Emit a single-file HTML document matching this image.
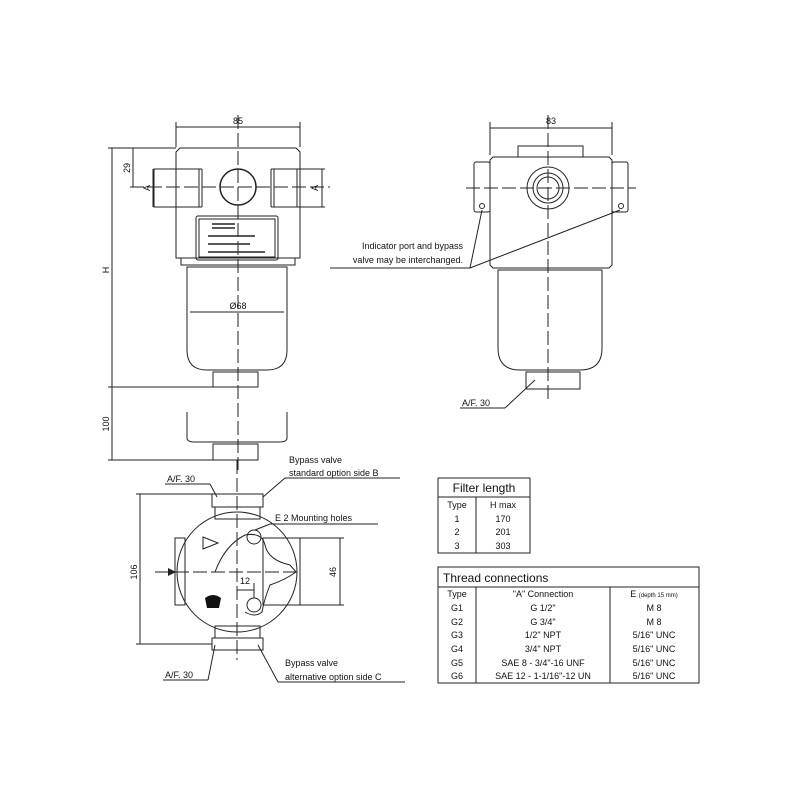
<!DOCTYPE html>
<html><head><meta charset="utf-8"><style>
html,body{margin:0;padding:0;background:#fff}
svg{display:block}
text{font-family:"Liberation Sans",sans-serif;fill:#111}
</style></head><body>
<svg width="800" height="800" viewBox="0 0 800 800" xmlns="http://www.w3.org/2000/svg">
<g fill="none" stroke="#222" stroke-width="1">
<!-- LEFT VIEW -->
<path d="M176,258 L176,152 L180,148 L296,148 L300,152 L300,258 Z"/>
<path d="M181,258 L181,265 L295,265 L295,258"/>
<rect x="154" y="169" width="22" height="38"/>
<line x1="199" y1="169" x2="199" y2="207"/><line x1="202" y1="169" x2="202" y2="207"/>
<line x1="176" y1="169" x2="202" y2="169"/><line x1="176" y1="207" x2="202" y2="207"/>
<line x1="271" y1="169" x2="271" y2="207"/><line x1="274" y1="169" x2="274" y2="207"/>
<line x1="271" y1="169" x2="300" y2="169"/><line x1="271" y1="207" x2="300" y2="207"/>
<line x1="297" y1="169" x2="297" y2="207"/>
<circle cx="238" cy="187" r="18" stroke-width="1.5"/>
<rect x="196" y="216" width="82" height="44" rx="2"/>
<rect x="199" y="219" width="76" height="38"/>
<g stroke-width="1.5"><line x1="212" y1="224" x2="235" y2="224"/><line x1="212" y1="228" x2="235" y2="228"/><line x1="208" y1="236" x2="255" y2="236"/><line x1="208" y1="244" x2="250" y2="244"/><line x1="208" y1="252" x2="265" y2="252"/></g>
<path d="M187,267 L287,267 L287,350 Q287,370 267,370 L207,370 Q187,370 187,350 Z"/>
<rect x="213" y="372" width="45" height="15"/>
<path d="M187,412 L187,438 Q187,442 195,442 L279,442 Q287,442 287,438 L287,412"/>
<rect x="213" y="444" width="45" height="16"/>
<line x1="238" y1="115" x2="238" y2="470" stroke-dasharray="14,4"/>
<line x1="130" y1="187" x2="330" y2="187" stroke-dasharray="14,4"/>
<!-- dims left -->
<line x1="176" y1="147" x2="176" y2="122"/><line x1="300" y1="147" x2="300" y2="122"/>
<line x1="176" y1="127" x2="300" y2="127"/>
<line x1="108" y1="148" x2="176" y2="148"/>
<line x1="112" y1="148" x2="112" y2="460"/>
<line x1="108" y1="387" x2="213" y2="387"/>
<line x1="108" y1="460" x2="213" y2="460"/>
<line x1="133" y1="148" x2="133" y2="187"/>
<line x1="153" y1="169" x2="153" y2="207"/>
<line x1="300" y1="169" x2="325" y2="169"/><line x1="300" y1="207" x2="325" y2="207"/>
<line x1="322" y1="169" x2="322" y2="207"/>
<line x1="190" y1="312" x2="284" y2="312"/>
<!-- RIGHT VIEW -->
<path d="M490,160 L493,157 L609,157 L612,160 L612,265 L609,268 L493,268 L490,265 Z"/>
<rect x="518" y="146" width="65" height="11"/>
<rect x="474" y="162" width="16" height="50" rx="2"/>
<rect x="612" y="162" width="16" height="50" rx="2"/>
<circle cx="548" cy="188" r="21"/><circle cx="548" cy="188" r="15"/><circle cx="548" cy="188" r="11"/>
<circle cx="482" cy="206" r="2.5"/><circle cx="621" cy="206" r="2.5"/>
<path d="M498,270 L602,270 L602,348 Q602,370 580,370 L520,370 Q498,370 498,348 Z"/>
<rect x="526" y="372" width="54" height="17"/>
<line x1="548" y1="115" x2="548" y2="400" stroke-dasharray="14,4"/>
<line x1="466" y1="188" x2="636" y2="188" stroke-dasharray="14,4"/>
<line x1="490" y1="155" x2="490" y2="122"/><line x1="612" y1="155" x2="612" y2="122"/>
<line x1="490" y1="128" x2="612" y2="128"/>
<line x1="330" y1="268" x2="470" y2="268"/>
<line x1="470" y1="268" x2="482" y2="210"/><line x1="470" y1="268" x2="620" y2="210"/>
<line x1="460" y1="408" x2="505" y2="408"/><line x1="505" y1="408" x2="535" y2="380"/>
<!-- BOTTOM VIEW -->
<circle cx="237" cy="572" r="60"/>
<rect x="212" y="494" width="51" height="13"/><rect x="215" y="507" width="45" height="12"/>
<rect x="212" y="638" width="51" height="12"/><rect x="215" y="626" width="45" height="12"/>
<rect x="175" y="538" width="10" height="67"/>
<rect x="263" y="538" width="37" height="67"/>
<circle cx="254" cy="537" r="7"/><circle cx="254" cy="605" r="7"/>
<path d="M215,572 Q225,545 245,535 Q262,532 265,545 Q268,560 290,565 L296,572 Q285,580 270,585 Q264,600 262,612 Q255,618 245,612"/>
<path d="M203,537 L218,543 L203,549 Z"/>
<line x1="237" y1="460" x2="237" y2="660" stroke-dasharray="14,4"/>
<line x1="175" y1="572" x2="300" y2="572" stroke-dasharray="14,4"/>
<line x1="136" y1="494" x2="212" y2="494"/><line x1="136" y1="644" x2="212" y2="644"/>
<line x1="140" y1="494" x2="140" y2="644"/>
<line x1="300" y1="538" x2="344" y2="538"/><line x1="300" y1="605" x2="344" y2="605"/>
<line x1="340" y1="538" x2="340" y2="605"/>
<line x1="237" y1="590" x2="254" y2="590"/><line x1="254" y1="583" x2="254" y2="598"/>
<line x1="155" y1="572" x2="168" y2="572"/>
<line x1="270" y1="524" x2="378" y2="524"/><line x1="270" y1="524" x2="255" y2="530"/>
<line x1="285" y1="478" x2="400" y2="478"/><line x1="285" y1="478" x2="263" y2="497"/>
<line x1="165" y1="484" x2="210" y2="484"/><line x1="210" y1="484" x2="217" y2="497"/>
<line x1="163" y1="680" x2="208" y2="680"/><line x1="208" y1="680" x2="215" y2="645"/>
<line x1="278" y1="682" x2="405" y2="682"/><line x1="278" y1="682" x2="258" y2="645"/>
<!-- TABLES -->
<rect x="438" y="478" width="92" height="75"/>
<line x1="438" y1="497" x2="530" y2="497"/><line x1="476" y1="497" x2="476" y2="553"/>
<rect x="438" y="567" width="261" height="116"/>
<line x1="438" y1="587" x2="699" y2="587"/><line x1="476" y1="587" x2="476" y2="683"/><line x1="610" y1="587" x2="610" y2="683"/>
</g>
<path d="M168,568 L176,572 L168,576 Z" fill="#222"/>
<path d="M205,598 Q213,592 221,598 L219,608 L207,608 Z" fill="#111"/>
<g font-size="9">
<text x="238" y="124" text-anchor="middle">85</text>
<text x="551" y="124" text-anchor="middle">83</text>
<text x="238" y="309" text-anchor="middle">Ø68</text>
<text transform="translate(130,168) rotate(-90)" text-anchor="middle">29</text>
<text transform="translate(109,270) rotate(-90)" text-anchor="middle">H</text>
<text transform="translate(109,424) rotate(-90)" text-anchor="middle">100</text>
<text transform="translate(150,188) rotate(-90)" text-anchor="middle">A</text>
<text transform="translate(318,188) rotate(-90)" text-anchor="middle">A</text>
<text transform="translate(137,572) rotate(-90)" text-anchor="middle">106</text>
<text transform="translate(336,572) rotate(-90)" text-anchor="middle">46</text>
<text x="240" y="584">12</text>
<text x="463" y="249" text-anchor="end">Indicator port and bypass</text>
<text x="463" y="263" text-anchor="end">valve may be interchanged.</text>
<text x="462" y="406">A/F. 30</text>
<text x="289" y="463">Bypass valve</text>
<text x="289" y="476">standard option side B</text>
<text x="275" y="521">E  2 Mounting holes</text>
<text x="167" y="482">A/F. 30</text>
<text x="165" y="678">A/F. 30</text>
<text x="285" y="666">Bypass valve</text>
<text x="285" y="680">alternative option side C</text>
</g>
<g font-size="9" text-anchor="middle">
<text x="484" y="492" font-size="12">Filter length</text>
<text x="457" y="508">Type</text><text x="503" y="508">H max</text>
<text x="457" y="522">1</text><text x="503" y="522">170</text>
<text x="457" y="535">2</text><text x="503" y="535">201</text>
<text x="457" y="549">3</text><text x="503" y="549">303</text>
<text x="443" y="582" font-size="12" text-anchor="start">Thread connections</text>
<text x="457" y="597">Type</text><text x="543" y="597">"A"  Connection</text><text x="654" y="597">E <tspan font-size="6">(depth 15 mm)</tspan></text>
<text x="457" y="611">G1</text><text x="543" y="611">G 1/2"</text><text x="654" y="611">M 8</text>
<text x="457" y="625">G2</text><text x="543" y="625">G 3/4"</text><text x="654" y="625">M 8</text>
<text x="457" y="638">G3</text><text x="543" y="638">1/2" NPT</text><text x="654" y="638">5/16" UNC</text>
<text x="457" y="652">G4</text><text x="543" y="652">3/4" NPT</text><text x="654" y="652">5/16" UNC</text>
<text x="457" y="666">G5</text><text x="543" y="666">SAE 8 - 3/4"-16 UNF</text><text x="654" y="666">5/16" UNC</text>
<text x="457" y="679">G6</text><text x="543" y="679">SAE 12 - 1-1/16"-12 UN</text><text x="654" y="679">5/16" UNC</text>
</g>
</svg>
</body></html>
